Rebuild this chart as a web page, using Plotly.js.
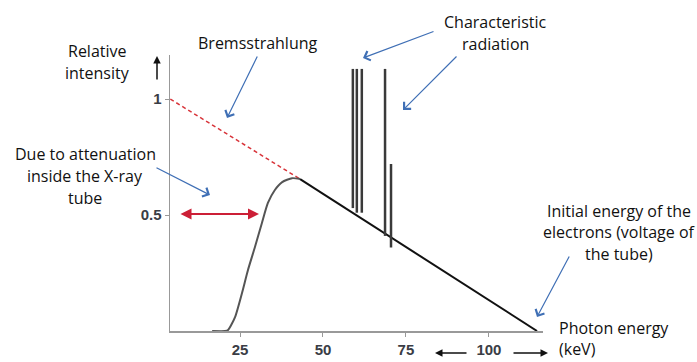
<!DOCTYPE html>
<html>
<head>
<meta charset="utf-8">
<script src="https://cdn.plot.ly/plotly-3.0.1.min.js"></script>
<style>html,body{margin:0;padding:0;background:#fff;}#chart{width:697px;height:362px;}</style>
</head>
<body>
<div id="chart"></div>
<script>
// ---- data ----
var curveEnergy = [16.6, 20.5, 21.4, 23.5, 25.6, 27.4, 29.5, 31.6, 33.4, 35.5, 37.7, 40.7, 43.1];
var curveIntensity = [0, 0, 0.004, 0.06, 0.164, 0.263, 0.362, 0.466, 0.552, 0.608, 0.642, 0.659, 0.655];
var lineEnergy = [43.1, 114.5];
var lineIntensity = [0.655, 0];
var unfilteredEnergy = [4, 43.1];
var unfilteredIntensity = [1.0, 0.655];
var peakEnergy = [59.0, 60.2, 61.7, 68.7, 70.5];
var peakTop = [1.13, 1.13, 1.13, 1.13, 0.72];
var peakBase = [0.53, 0.51, 0.51, 0.41, 0.36];
var xTickValues = [25, 50, 75, 100];
var xTickLabels = ['25', '50', '75', '100'];
var yTickValues = [0.5, 1];
var yTickLabels = ['0.5', '1'];

// ---- build peak segments ----
var pkX = [], pkY = [];
for (var i = 0; i < peakEnergy.length; i++) {
  pkX.push(peakEnergy[i], peakEnergy[i], null);
  pkY.push(peakBase[i], peakTop[i], null);
}

var traces = [
  {x: unfilteredEnergy, y: unfilteredIntensity, mode: 'lines', line: {color: '#d8343a', width: 1.5, dash: '4px,3px'}, hoverinfo: 'skip'},
  {x: curveEnergy, y: curveIntensity, mode: 'lines', line: {color: '#555', width: 2, shape: 'spline', smoothing: 0.6}, hoverinfo: 'skip'},
  {x: lineEnergy, y: lineIntensity, mode: 'lines', line: {color: '#111', width: 2}, hoverinfo: 'skip'},
  {x: pkX, y: pkY, mode: 'lines', line: {color: '#3a3a3a', width: 2.5}, hoverinfo: 'skip', connectgaps: false}
];

// pixel -> paper conversion (plot area 170..543 x 55..331)
var L = 170, R = 543, T = 55, B = 331;
function px(x) { return (x - L) / (R - L); }
function py(y) { return (B - y) / (B - T); }

var textFont = {family: 'Open Sans, sans-serif', size: 16, color: '#111'};
function txt(s, x, y, anchor, yanchor) {
  return {text: s, xref: 'paper', yref: 'paper', x: px(x), y: py(y), showarrow: false,
          xanchor: anchor || 'center', yanchor: yanchor || 'middle', align: anchor || 'center', font: textFont};
}
function arrow(hx, hy, tx, ty, color, head, size, width, side) {
  return {text: '', xref: 'paper', yref: 'paper', x: px(hx), y: py(hy),
          ax: tx - hx, ay: ty - hy, axref: 'pixel', ayref: 'pixel',
          showarrow: true, arrowhead: head, arrowsize: size, arrowwidth: width,
          arrowcolor: color, arrowside: side || 'end', startarrowhead: head, startarrowsize: size,
          standoff: 0, startstandoff: 0};
}

var blue = '#3f6fb5';
var annotations = [
  txt('Relative', 97, 51), txt('intensity', 97, 73),
  txt('Bremsstrahlung', 258, 43),
  txt('Characteristic', 495, 22), txt('radiation', 495, 44),
  txt('Due to attenuation', 85, 154), txt('inside the X-ray', 85, 176), txt('tube', 85, 198),
  txt('Initial energy of the', 619, 211), txt('electrons (voltage of', 619, 232), txt('the tube)', 619, 254),
  txt('Photon energy<br>(keV)', 557, 362, 'left', 'bottom'),
  arrow(227, 118, 258, 55, blue, 4, 1.6, 1.2),
  arrow(363, 58, 435, 31, blue, 4, 1.6, 1.2),
  arrow(403, 110, 458, 55, blue, 4, 1.6, 1.2),
  arrow(210, 195, 155, 167, blue, 4, 1.6, 1.2),
  arrow(537, 317, 570, 255, blue, 4, 1.6, 1.2),
  arrow(259, 214, 179, 214, '#cc1f36', 2, 1.1, 2, 'end+start'),
  arrow(157, 56, 157, 81, '#111', 2, 1.0, 1.5),
  arrow(435, 353, 468, 353, '#111', 2, 1.0, 1.5),
  arrow(548, 353, 512, 353, '#111', 2, 1.0, 1.5)
];

var tickFont = {family: 'Arial, Liberation Sans, sans-serif', size: 15, color: '#3a3d45', weight: 'bold'};

var layout = {
  width: 697, height: 362,
  margin: {l: L, r: 697 - R, t: T, b: 362 - B, pad: 0},
  paper_bgcolor: '#fff', plot_bgcolor: '#fff',
  showlegend: false,
  xaxis: {range: [3.9, 116.3], showgrid: false, zeroline: false, showline: true, linecolor: '#999', linewidth: 1.5,
          ticks: 'outside', ticklen: 4, tickcolor: '#999', tickwidth: 1,
          tickvals: xTickValues, ticktext: xTickLabels, tickfont: tickFont, fixedrange: true},
  yaxis: {range: [0, 1.19], showgrid: false, zeroline: false, showline: true, linecolor: '#999', linewidth: 1.5,
          ticks: 'outside', ticklen: 4, tickcolor: '#999', tickwidth: 1,
          tickvals: yTickValues, ticktext: yTickLabels, tickfont: tickFont, fixedrange: true},
  annotations: annotations
};

Plotly.newPlot('chart', traces, layout, {displayModeBar: false, staticPlot: true});
</script>
</body>
</html>
